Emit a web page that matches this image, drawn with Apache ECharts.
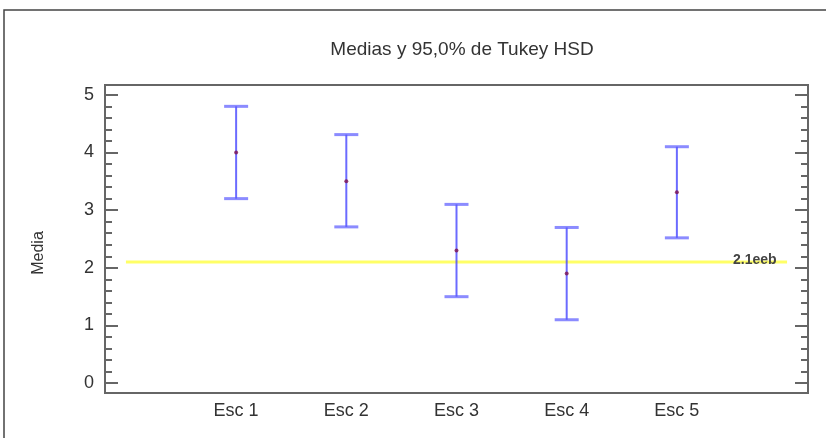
<!DOCTYPE html>
<html>
<head>
<meta charset="utf-8">
<script src="https://cdn.jsdelivr.net/npm/echarts@6/dist/echarts.min.js"></script>
<style>
  html, body { margin: 0; padding: 0; background: #fff; }
  #chart { width: 826px; height: 438px; }
</style>
</head>
<body>
<div id="chart"></div>
<script>
// datos
var categories = ['Esc 1', 'Esc 2', 'Esc 3', 'Esc 4', 'Esc 5'];
var means = [4.0, 3.5, 2.3, 1.9, 3.31];
var lower = [3.2, 2.71, 1.5, 1.1, 2.52];
var upper = [4.8, 4.31, 3.1, 2.7, 4.1];
var grandMean = 2.1;
var yTicks = [0, 1, 2, 3, 4, 5];

// marcas menores cada 0,2
var minorTicks = [];
for (var i = 0; i < yTicks.length - 1; i++) {
    for (var k = 1; k < 5; k++) minorTicks.push(+(yTicks[i] + k * 0.2).toFixed(2));
}

var bars = categories.map(function (c, i) { return [i + 1, lower[i], upper[i], means[i]]; });
var points = categories.map(function (c, i) { return [i + 1, means[i]]; });

var yMin = -0.17, yMax = 5.17;
var txt = '#333';
var axisGrey = '#666';
var font = '"Liberation Sans", Arial, sans-serif';

function yAx(pos, major) {
    return {
        type: 'value', position: pos, min: yMin, max: yMax,
        name: (pos === 'left' && major) ? 'Media' : '',
        nameLocation: 'middle', nameGap: 58,
        nameTextStyle: { fontFamily: font, fontSize: 16, color: txt, padding: [0, 28, 0, 0] },
        axisLine: { show: major, onZero: false, lineStyle: { color: axisGrey, width: 2 } },
        axisTick: {
            show: true, inside: true, length: major ? 13 : 7,
            customValues: major ? yTicks : minorTicks,
            lineStyle: { color: axisGrey, width: 2 }
        },
        axisLabel: {
            show: pos === 'left' && major, customValues: yTicks, margin: 11,
            fontFamily: font, fontSize: 18, color: txt
        },
        splitLine: { show: false }
    };
}

var chart = echarts.init(document.getElementById('chart'));
chart.setOption({
    animation: false,
    backgroundColor: '#fff',
    title: {
        text: 'Medias y 95,0% de Tukey HSD', left: 457, top: 35, textAlign: 'center',
        textStyle: { fontFamily: font, fontSize: 19, fontWeight: 'normal', color: txt }
    },
    graphic: [{
        type: 'rect', shape: { x: 4, y: 10, width: 840, height: 450 },
        style: { fill: null, stroke: '#444', lineWidth: 1.5 }, silent: true
    }],
    grid: {
        left: 105, top: 85, right: 18, bottom: 45,
        show: true, borderColor: axisGrey, borderWidth: 2, backgroundColor: 'transparent'
    },
    xAxis: {
        type: 'value', min: -0.19, max: 6.19,
        axisLine: { show: false, onZero: false },
        axisTick: { show: false },
        splitLine: { show: false },
        axisLabel: {
            customValues: [1, 2, 3, 4, 5], margin: 9,
            formatter: function (v) { return categories[Math.round(v) - 1] || ''; },
            fontFamily: font, fontSize: 18, color: txt
        }
    },
    yAxis: [yAx('left', true), yAx('left', false), yAx('right', true), yAx('right', false)],
    series: [
        {
            type: 'line', data: [[0, grandMean], [6, grandMean]],
            symbol: 'none', lineStyle: { color: '#ffff66', width: 3 },
            endLabel: {
                show: true, formatter: '2.1eeb', offset: [-62, -2],
                fontFamily: font, fontSize: 14, fontWeight: 'bold', color: '#444'
            },
            z: 1
        },
        {
            type: 'custom', data: bars, z: 3,
            renderItem: function (params, api) {
                var x = api.value(0);
                var lo = api.coord([x, api.value(1)]);
                var hi = api.coord([x, api.value(2)]);
                var hw = 12;
                var stem = { stroke: 'rgba(70,70,255,0.8)', lineWidth: 2 };
                var cap = { stroke: 'rgba(90,90,255,0.7)', lineWidth: 3 };
                return {
                    type: 'group', children: [
                        { type: 'line', shape: { x1: lo[0], y1: lo[1], x2: hi[0], y2: hi[1] }, style: stem },
                        { type: 'line', shape: { x1: hi[0] - hw, y1: hi[1], x2: hi[0] + hw, y2: hi[1] }, style: cap },
                        { type: 'line', shape: { x1: lo[0] - hw, y1: lo[1], x2: lo[0] + hw, y2: lo[1] }, style: cap }
                    ]
                };
            }
        },
        {
            type: 'scatter', data: points, symbolSize: 4, z: 4,
            itemStyle: { color: '#7a1050' }
        }
    ]
});
</script>
</body>
</html>
